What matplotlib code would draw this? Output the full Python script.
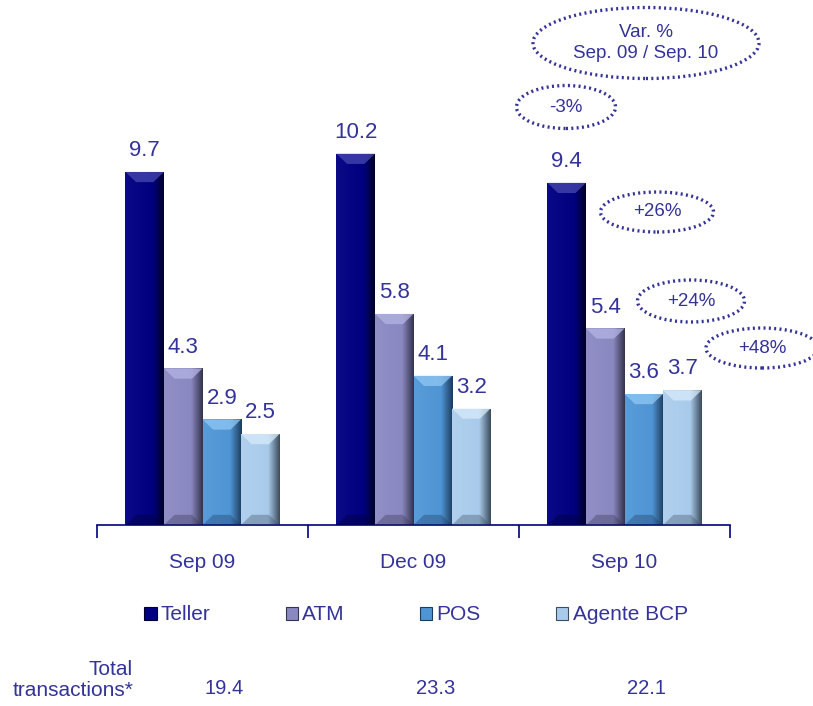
import numpy as np
import matplotlib
matplotlib.use("Agg")
import matplotlib.pyplot as plt
from matplotlib.patches import Ellipse, Polygon, Patch
from matplotlib.colors import to_rgb

plt.rcParams['font.family'] = ['Liberation Sans', 'DejaVu Sans']

periods = ['Sep 09', 'Dec 09', 'Sep 10']
channels = ['Teller', 'ATM', 'POS', 'Agente BCP']
teller = [9.7, 10.2, 9.4]
atm = [4.3, 5.8, 5.4]
pos = [2.9, 4.1, 3.6]
agente = [2.5, 3.2, 3.7]
variation = ['-3%', '+26%', '+24%', '+48%']

series = [teller, atm, pos, agente]
totals = [round(sum(v), 1) for v in zip(*series)]

base_colors = ['#000080', '#8a88c0', '#4f94d4', '#a9cbeb']
dark_colors = ['#00002a', '#34344e', '#1c3c5c', '#3c4c5c']
light_colors = ['#4848b0', '#b4b4e4', '#90c8f4', '#d8eafa']
txt = '#333399'

fig = plt.figure(figsize=(8.13, 7.06), dpi=100)
ax = fig.add_axes([97 / 813, 181 / 706, 633 / 813, 525 / 706])
ax.set_xlim(-0.5, 2.5)
ax.set_ylim(0, 525 / 36.4)

w = 0.1825
x = np.arange(len(periods))


def shade_bar(rect, base, dark, light):
    # horizontal gradient plus a bevelled top, clipped to the bar
    x0, y0 = rect.get_x(), rect.get_y()
    bw, bh = rect.get_width(), rect.get_height()
    b, d, l = np.array(to_rgb(base)), np.array(to_rgb(dark)), np.array(to_rgb(light))
    t = np.linspace(0, 1, 60)
    prof = np.where(t < 0.7, 0.15 * (1 - t / 0.7), -(t - 0.7) / 0.3)
    cols = np.array([b + p * (l - b) if p >= 0 else b + (-p) * (d - b) for p in prof])
    img = ax.imshow(cols[np.newaxis, :, :], extent=(x0, x0 + bw, y0, y0 + bh),
                    aspect='auto', zorder=2, interpolation='bilinear')
    img.set_clip_path(rect)
    dx, dy = 0.05, 0.28
    top = y0 + bh
    ax.add_patch(Polygon([(x0, top), (x0 + bw, top), (x0 + bw - dx, top - dy),
                          (x0 + dx, top - dy)], closed=True, fc=light, ec='none',
                         alpha=0.75, zorder=3))
    ax.add_patch(Polygon([(x0, y0), (x0 + bw, y0), (x0 + bw - dx, y0 + dy),
                          (x0 + dx, y0 + dy)], closed=True, fc=dark, ec='none',
                         alpha=0.35, zorder=3))


for i, vals in enumerate(series):
    bars = ax.bar(x + (i - 1.5) * w, vals, w, color='none', edgecolor='none', zorder=2)
    for rect, v in zip(bars, vals):
        shade_bar(rect, base_colors[i], dark_colors[i], light_colors[i])
        ax.text(rect.get_x() + rect.get_width() / 2, v + 0.3, f'{v:.1f}',
                ha='center', va='bottom', fontsize=16, color=txt)

for s in ['top', 'right', 'left']:
    ax.spines[s].set_visible(False)
ax.spines['bottom'].set_color('#000080')
ax.spines['bottom'].set_linewidth(1.2)
ax.set_yticks([])
ax.set_xticks([-0.5, 0.5, 1.5, 2.5])
ax.set_xticklabels([])
ax.tick_params(axis='x', which='major', direction='out', length=9, width=1.2, color='#000080')
ax.set_xticks(x, minor=True)
ax.set_xticklabels(periods, minor=True, fontsize=15, color=txt)
ax.tick_params(axis='x', which='minor', length=0, pad=20)

# legend
handles = [Patch(facecolor=c, edgecolor=d, linewidth=0.8) for c, d in zip(base_colors, dark_colors)]
fig.legend(handles, channels, loc='center', bbox_to_anchor=(416 / 813, 1 - 615 / 706),
           ncol=4, frameon=False, fontsize=15, labelcolor=txt, handlelength=0.6,
           handleheight=0.6, handletextpad=0.2, columnspacing=3.6)

# variation bubbles
def bubble(cx, cy, bw, bh, label):
    e = Ellipse((cx / 813, 1 - cy / 706), bw / 813, bh / 706, transform=fig.transFigure,
                fill=False, ec=txt, lw=2.4, ls=(0, (0.6, 1.0)))
    fig.add_artist(e)
    fig.text(cx / 813, 1 - cy / 706, label, ha='center', va='center', fontsize=13.5,
             color=txt, linespacing=1.25)


bubble(646, 43, 226, 71, 'Var. %\nSep. 09 / Sep. 10')
for (cx, cy, bw, bh), lab in zip([(566, 107, 99, 43), (657, 212, 113, 40),
                                  (691, 301, 107, 42), (762, 348, 112, 40)], variation):
    bubble(cx, cy, bw, bh, lab)

# totals row
fig.text(133 / 813, 1 - 680 / 706, 'Total\ntransactions*', ha='right', va='center',
         fontsize=15, color=txt, linespacing=1.1)
for xi, tot in zip(x, totals):
    xf = fig.transFigure.inverted().transform(ax.transData.transform((xi, 0)))[0]
    fig.text(xf + 22 / 813, 1 - 688 / 706, f'{tot:.1f}', ha='center', va='center',
             fontsize=14.5, color=txt)

fig.savefig('out.png', dpi=100)
